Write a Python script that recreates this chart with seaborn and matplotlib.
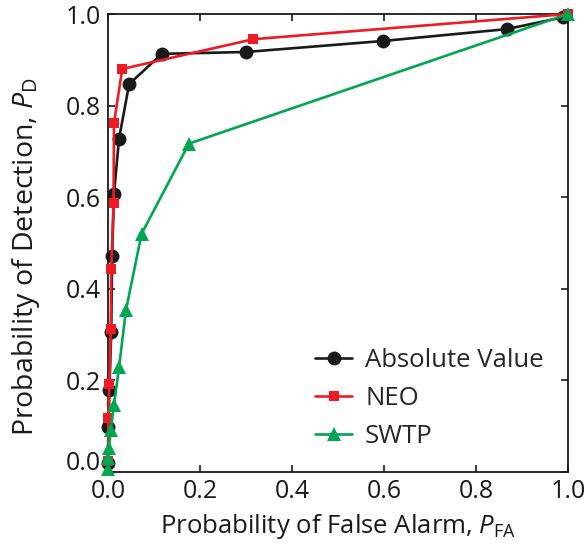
import matplotlib
matplotlib.use("Agg")
import matplotlib.pyplot as plt
import matplotlib.transforms as mtransforms
import seaborn as sns
import pandas as pd

# Data
abs_pfa = [0.0, 0.0, 0.001, 0.003, 0.007, 0.009, 0.013, 0.024, 0.046, 0.117, 0.299, 0.597, 0.867, 0.99]
abs_pd = [0.0, 0.04, 0.099, 0.179, 0.306, 0.471, 0.607, 0.728, 0.847, 0.913, 0.917, 0.941, 0.967, 0.993]

neo_pfa = [0.0, 0.0, 0.0, 0.001, 0.003, 0.006, 0.007, 0.012, 0.013, 0.031, 0.316, 1.0]
neo_pd = [0.0, 0.02, 0.055, 0.117, 0.193, 0.312, 0.444, 0.587, 0.762, 0.88, 0.945, 1.0]

swtp_pfa = [0.0, 0.0, 0.0, 0.001, 0.002, 0.006, 0.013, 0.024, 0.039, 0.073, 0.176, 1.0]
swtp_pd = [0.0, 0.005, 0.015, 0.03, 0.052, 0.092, 0.146, 0.229, 0.353, 0.52, 0.717, 1.0]

series_names = ["Absolute Value", "NEO", "SWTP"]
colors = ["#1a1a1a", "#ed1c24", "#00a651"]
marker_list = ["o", "s", "^"]
marker_sizes = [10, 7.5, 10.5]

x_label = r"Probability of False Alarm, $P_{\mathrm{FA}}$"
y_label = r"Probability of Detection, $P_{\mathrm{D}}$"
ticks = [0.0, 0.2, 0.4, 0.6, 0.8, 1.0]
tick_labels = ["0.0", "0.2", "0.4", "0.6", "0.8", "1.0"]

FS = 18

sns.set_style("ticks")
plt.rcParams["font.family"] = ["Open Sans", "DejaVu Sans"]
plt.rcParams["mathtext.fontset"] = "custom"
plt.rcParams["mathtext.it"] = "Open Sans:italic"
plt.rcParams["mathtext.rm"] = "Open Sans"

fig = plt.figure(figsize=(5.87, 5.54), dpi=100)
ax = fig.add_axes([108 / 587, (554 - 472) / 554, 460 / 587, 458 / 554])

xs = [abs_pfa, neo_pfa, swtp_pfa]
ys = [abs_pd, neo_pd, swtp_pd]
for name, xv, yv, c, m, ms in zip(series_names, xs, ys, colors, marker_list, marker_sizes):
    df = pd.DataFrame({"PFA": xv, "PD": yv})
    sns.lineplot(data=df, x="PFA", y="PD", sort=False, ax=ax, color=c,
                 marker=m, markersize=ms, markeredgewidth=0, linewidth=1.9,
                 label=name, clip_on=False, zorder=3)

ax.set_xlim(0, 1)
ax.set_ylim(0, 1)
ax.set_xticks(ticks)
ax.set_xticklabels(tick_labels)
ax.set_yticks(ticks)
ax.set_yticklabels(tick_labels)
ax.tick_params(direction="in", top=True, right=True, length=5, width=1.2,
               labelsize=FS, colors="#1a1a1a", pad=5)
for sp in ax.spines.values():
    sp.set_linewidth(1.3)
    sp.set_color("#1a1a1a")

# lift the y "0.0" label slightly, as in the reference
lbl0 = ax.get_yticklabels()[0]
lbl0.set_transform(lbl0.get_transform() +
                   mtransforms.ScaledTranslation(0, 11 / 100, fig.dpi_scale_trans))

ax.set_xlabel(x_label, fontsize=FS + 0.5, color="#1a1a1a", labelpad=6)
ax.set_ylabel(y_label, fontsize=FS + 2.5, color="#1a1a1a")
ax.yaxis.set_label_coords(-0.143, 0.47)

h, l = ax.get_legend_handles_labels()
ax.legend(h, l, loc="upper left", bbox_to_anchor=(0.45, 0.27), frameon=False,
          fontsize=FS + 0.5, handlelength=1.45, handletextpad=0.5, labelspacing=0.5,
          borderaxespad=0.0, borderpad=0.0)

fig.savefig("out.png", dpi=100)
